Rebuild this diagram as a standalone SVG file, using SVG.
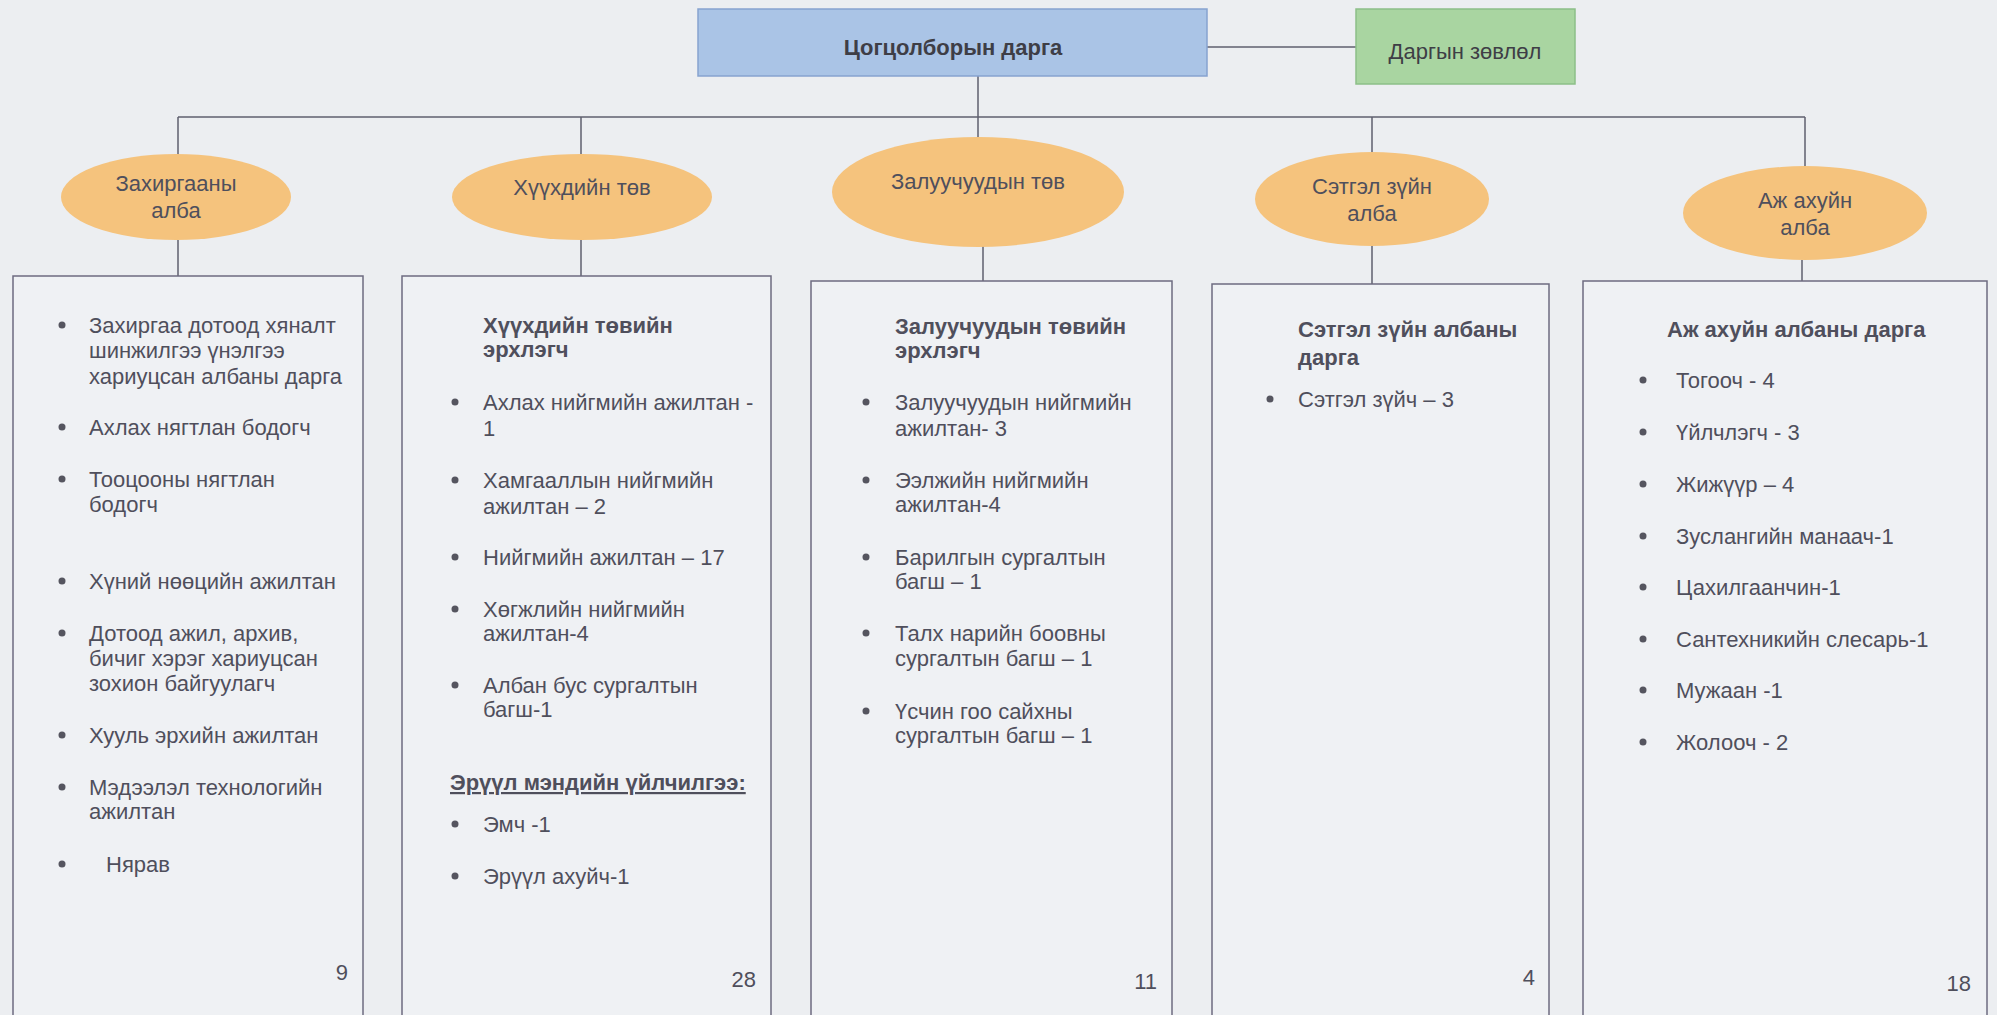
<svg xmlns="http://www.w3.org/2000/svg" width="1997" height="1015" viewBox="0 0 1997 1015">
<style>
text{font-family:"Liberation Sans",Arial,sans-serif;font-size:22px;fill:#4f4f5c}
.b{font-weight:bold}
.c{text-anchor:middle}
.e{text-anchor:end}
.ell{fill:#f5c37d;stroke:none}
.box{fill:#eff1f4;stroke:#6d6b80;stroke-width:1.5}
.con line{stroke:#5f5f6e;stroke-width:1.5}
.dot{fill:#55555f}
</style>
<rect width="1997" height="1015" fill="#eceef1"/>
<g class="con">
<line x1="1207" y1="47" x2="1356" y2="47"/>
<line x1="978" y1="76" x2="978" y2="117"/>
<line x1="178" y1="117" x2="1805" y2="117"/>
<line x1="178" y1="117" x2="178" y2="155"/>
<line x1="581" y1="117" x2="581" y2="155"/>
<line x1="978" y1="117" x2="978" y2="138"/>
<line x1="1372" y1="117" x2="1372" y2="153"/>
<line x1="1805" y1="117" x2="1805" y2="166"/>
<line x1="178" y1="240" x2="178" y2="276"/>
<line x1="581" y1="240" x2="581" y2="276"/>
<line x1="983" y1="246" x2="983" y2="281"/>
<line x1="1372" y1="246" x2="1372" y2="284"/>
<line x1="1802" y1="260" x2="1802" y2="281"/>
</g>
<g id="top">
<rect x="698" y="9" width="509" height="67" fill="#aac4e6" stroke="#86a3cf" stroke-width="1.5"/>
<text x="953" y="55" class="b c" style="fill:#3e3e46">Цогцолборын дарга</text>
</g>
<g id="council">
<rect x="1356" y="9" width="219" height="75" fill="#a9d5a1" stroke="#8cbf88" stroke-width="1.5"/>
<text x="1465" y="59" class="c" style="fill:#3e3e46">Даргын зөвлөл</text>
</g>
<g id="e1"><ellipse class="ell" cx="176" cy="197" rx="115" ry="43"/><text x="176" y="191" class="c">Захиргааны</text><text x="176" y="218" class="c">алба</text></g>
<g id="e2"><ellipse class="ell" cx="582" cy="197" rx="130" ry="43"/><text x="582" y="195" class="c">Хүүхдийн төв</text></g>
<g id="e3"><ellipse class="ell" cx="978" cy="192" rx="146" ry="55"/><text x="978" y="189" class="c">Залуучуудын төв</text></g>
<g id="e4"><ellipse class="ell" cx="1372" cy="199" rx="117" ry="47"/><text x="1372" y="194" class="c">Сэтгэл зүйн</text><text x="1372" y="221" class="c">алба</text></g>
<g id="e5"><ellipse class="ell" cx="1805" cy="213" rx="122" ry="47"/><text x="1805" y="208" class="c">Аж ахуйн</text><text x="1805" y="235" class="c">алба</text></g>

<g id="box1">
<rect class="box" x="13" y="276" width="350" height="745"/>
<circle class="dot" cx="62" cy="325" r="3.5"/>
<text x="89" y="333">Захиргаа дотоод хяналт</text>
<text x="89" y="358">шинжилгээ үнэлгээ</text>
<text x="89" y="384">хариуцсан албаны дарга</text>
<circle class="dot" cx="62" cy="427" r="3.5"/>
<text x="89" y="435">Ахлах нягтлан бодогч</text>
<circle class="dot" cx="62" cy="479" r="3.5"/>
<text x="89" y="487">Тооцооны нягтлан</text>
<text x="89" y="512">бодогч</text>
<circle class="dot" cx="62" cy="581" r="3.5"/>
<text x="89" y="589">Хүний нөөцийн ажилтан</text>
<circle class="dot" cx="62" cy="633" r="3.5"/>
<text x="89" y="641">Дотоод ажил, архив,</text>
<text x="89" y="666">бичиг хэрэг хариуцсан</text>
<text x="89" y="691">зохион байгуулагч</text>
<circle class="dot" cx="62" cy="735" r="3.5"/>
<text x="89" y="743">Хууль эрхийн ажилтан</text>
<circle class="dot" cx="62" cy="787" r="3.5"/>
<text x="89" y="795">Мэдээлэл технологийн</text>
<text x="89" y="819">ажилтан</text>
<circle class="dot" cx="62" cy="864" r="3.5"/>
<text x="106" y="872">Нярав</text>
<text x="348" y="980" class="e">9</text>
</g>

<g id="box2">
<rect class="box" x="402" y="276" width="369" height="745"/>
<text x="483" y="333" class="b">Хүүхдийн төвийн</text>
<text x="483" y="357" class="b">эрхлэгч</text>
<circle class="dot" cx="455" cy="402" r="3.5"/>
<text x="483" y="410">Ахлах нийгмийн ажилтан -</text>
<text x="483" y="436">1</text>
<circle class="dot" cx="455" cy="480" r="3.5"/>
<text x="483" y="488">Хамгааллын нийгмийн</text>
<text x="483" y="514">ажилтан – 2</text>
<circle class="dot" cx="455" cy="557" r="3.5"/>
<text x="483" y="565">Нийгмийн ажилтан – 17</text>
<circle class="dot" cx="455" cy="609" r="3.5"/>
<text x="483" y="617">Хөгжлийн нийгмийн</text>
<text x="483" y="641">ажилтан-4</text>
<circle class="dot" cx="455" cy="685" r="3.5"/>
<text x="483" y="693">Албан бус сургалтын</text>
<text x="483" y="717">багш-1</text>
<text x="450" y="790" class="b" text-decoration="underline">Эрүүл мэндийн үйлчилгээ:</text>
<circle class="dot" cx="455" cy="824" r="3.5"/>
<text x="483" y="832">Эмч -1</text>
<circle class="dot" cx="455" cy="876" r="3.5"/>
<text x="483" y="884">Эрүүл ахуйч-1</text>
<text x="756" y="987" class="e">28</text>
</g>

<g id="box3">
<rect class="box" x="811" y="281" width="361" height="740"/>
<text x="895" y="334" class="b">Залуучуудын төвийн</text>
<text x="895" y="358" class="b">эрхлэгч</text>
<circle class="dot" cx="866" cy="402" r="3.5"/>
<text x="895" y="410">Залуучуудын нийгмийн</text>
<text x="895" y="436">ажилтан- 3</text>
<circle class="dot" cx="866" cy="480" r="3.5"/>
<text x="895" y="488">Ээлжийн нийгмийн</text>
<text x="895" y="512">ажилтан-4</text>
<circle class="dot" cx="866" cy="557" r="3.5"/>
<text x="895" y="565">Барилгын сургалтын</text>
<text x="895" y="589">багш – 1</text>
<circle class="dot" cx="866" cy="633" r="3.5"/>
<text x="895" y="641">Талх нарийн боовны</text>
<text x="895" y="666">сургалтын багш – 1</text>
<circle class="dot" cx="866" cy="711" r="3.5"/>
<text x="895" y="719">Үсчин гоо сайхны</text>
<text x="895" y="743">сургалтын багш – 1</text>
<text x="1157" y="989" class="e">11</text>
</g>

<g id="box4">
<rect class="box" x="1212" y="284" width="337" height="737"/>
<text x="1298" y="337" class="b">Сэтгэл зүйн албаны</text>
<text x="1298" y="365" class="b">дарга</text>
<circle class="dot" cx="1270" cy="399" r="3.5"/>
<text x="1298" y="407">Сэтгэл зүйч – 3</text>
<text x="1535" y="985" class="e">4</text>
</g>

<g id="box5">
<rect class="box" x="1583" y="281" width="404" height="740"/>
<text x="1667" y="337" class="b">Аж ахуйн албаны дарга</text>
<circle class="dot" cx="1643" cy="380" r="3.5"/>
<text x="1676" y="388">Тогооч - 4</text>
<circle class="dot" cx="1643" cy="432" r="3.5"/>
<text x="1676" y="440">Үйлчлэгч - 3</text>
<circle class="dot" cx="1643" cy="484" r="3.5"/>
<text x="1676" y="492">Жижүүр – 4</text>
<circle class="dot" cx="1643" cy="536" r="3.5"/>
<text x="1676" y="544">Зуслангийн манаач-1</text>
<circle class="dot" cx="1643" cy="587" r="3.5"/>
<text x="1676" y="595">Цахилгаанчин-1</text>
<circle class="dot" cx="1643" cy="639" r="3.5"/>
<text x="1676" y="647">Сантехникийн слесарь-1</text>
<circle class="dot" cx="1643" cy="690" r="3.5"/>
<text x="1676" y="698">Мужаан -1</text>
<circle class="dot" cx="1643" cy="742" r="3.5"/>
<text x="1676" y="750">Жолооч - 2</text>
<text x="1971" y="991" class="e">18</text>
</g>
</svg>
